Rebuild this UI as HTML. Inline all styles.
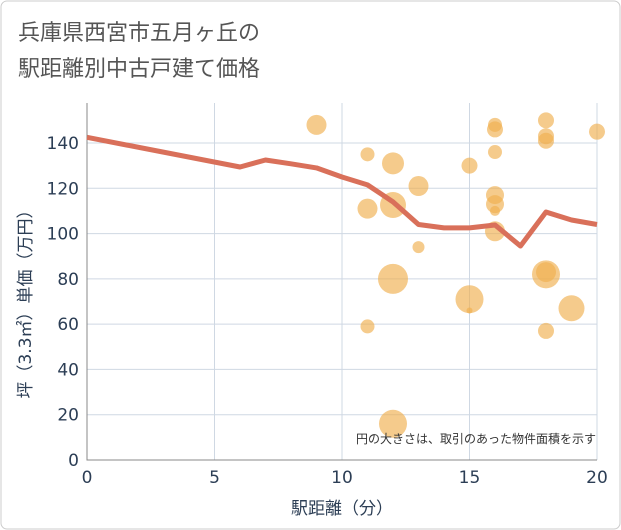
<!DOCTYPE html>
<html><head><meta charset="utf-8"><style>
body{margin:0;background:#fff;}
svg{display:block;font-family:"Liberation Sans","Noto Sans CJK JP",sans-serif;}
.dj{font-family:"DejaVu Sans","Noto Sans CJK JP",sans-serif;}
</style></head><body>
<svg id="c" width="621" height="530">
<rect x="1" y="1" width="619" height="528" rx="6" fill="#fff" stroke="#ccc"/>
<text class="dj" x="18" y="40" font-size="22" fill="#555">兵庫県西宮市五月ヶ丘の</text>
<text class="dj" x="18" y="76" font-size="22" fill="#555">駅距離別中古戸建て価格</text>
<g id="grid"></g><g id="marks"></g>
<text x="596" y="443" font-size="12" fill="#333" text-anchor="end">円の大きさは、取引のあった物件面積を示す</text>
<text class="dj" x="342" y="514" font-size="17" fill="#2c3e55" text-anchor="middle">駅距離（分）</text>
<text class="dj" transform="translate(31,300) rotate(-90)" font-size="17" fill="#2c3e55" text-anchor="middle">坪（3.3㎡）単価（万円）</text>
</svg>
<script>
const xTicks=[0,5,10,15,20];
const yTicks=[0,20,40,60,80,100,120,140];
const lineX=[0,6,7,8,9,10,11,12,13,14,15,16,17,18,19,20];
const lineY=[142.5,129.4,132.5,130.8,129,125,121.5,114,104,102.5,102.5,103.8,94.5,109.5,106,104];
const bubX=[9,11,11,11,12,12,12,12,13,13,15,15,15,16,16,16,16,16,16,16,18,18,18,18,18,18,19,20];
const bubY=[148,135,111,59,131,112.6,80,16,121,94,130,71,66,148,146,136,117,113,110,101,150,143,141,83,82,57,67,145];
const bubR=[10,7,10,7,11,13,15,14,10,6,8,14,3,7,8,7,9,9,5,10,8,8,8,10,14,8,13,8];
const NS="http://www.w3.org/2000/svg";
const L=87,R=597,T=103,B=460;
const sx=v=>L+(R-L)*v/20, sy=v=>B-(B-143)*v/140;
const g=document.getElementById('grid'), m=document.getElementById('marks');
function mk(tag,a,p){const e=document.createElementNS(NS,tag);for(const k in a)e.setAttribute(k,a[k]);p.appendChild(e);return e;}
xTicks.forEach(t=>{
 const ln=mk('line',{x1:sx(t),x2:sx(t),y1:T,y2:B,stroke:'#cfd8e3'},g);
 
 
 const tx=mk('text',{x:sx(t),y:483,'font-size':17,fill:'#2c3e55','text-anchor':'middle','class':'dj'},g);
 tx.textContent=t;
 
 
});
yTicks.forEach(t=>{
 const ln=mk('line',{x1:L,x2:R,y1:sy(t),y2:sy(t),stroke:'#cfd8e3'},g);
 
 
 const tx=mk('text',{x:79,y:sy(t)+6,'font-size':17,fill:'#2c3e55','text-anchor':'end','class':'dj'},g);
 tx.textContent=t;
 
 
});
const ax=mk('path',{d:`M${L},${T}V${B}H${R}`,fill:'none',stroke:'#888'},g);


bubX.forEach((x,i)=>{
 const c=mk('circle',{cx:sx(x),cy:sy(bubY[i]),r:bubR[i],fill:'#efaf4f','fill-opacity':0.65},m);
 
 
});
const p=mk('polyline',{points:lineX.map((x,i)=>sx(x)+','+sy(lineY[i])).join(' '),fill:'none',stroke:'#d9705a','stroke-width':5,'stroke-linejoin':'round'},m);


</script>
</body></html>
